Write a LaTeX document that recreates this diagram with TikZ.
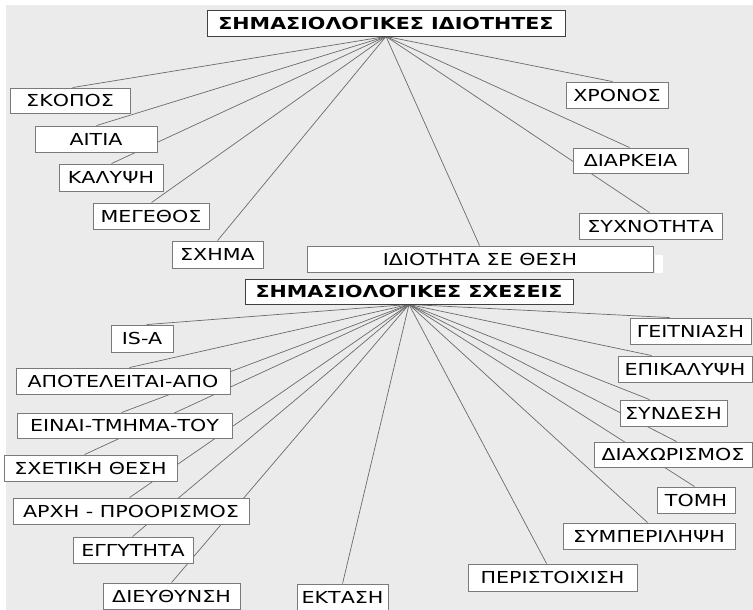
\documentclass[tikz,border=0pt]{standalone}
\usepackage{fontspec}
\setmainfont[FakeStretch=1.25]{DejaVu Sans}
\pgfdeclarelayer{bg}
\pgfsetlayers{bg,main}
\definecolor{bggray}{HTML}{EBEBEB}
\definecolor{edgegray}{HTML}{7A7A7A}
\definecolor{linkgray}{HTML}{6A6A6A}
\tikzset{
  box/.style={draw=edgegray, line width=0.9pt, fill=white, inner sep=0pt,
    font=\fontsize{16.5}{18}\selectfont, text=black},
  titlebox/.style={box, draw=black!75, font=\fontsize{16.5}{18}\selectfont\bfseries},
  link/.style={draw=linkgray, line width=0.7pt},
}
% name, x1, y1, x2, y2, text
\newcommand\gbox[7][box]{%
  \node[#1, minimum width={#5-#3}, minimum height={#6-#4}]
    (#2) at ({(#3+#5)/2},{(#4+#6)/2}) {#7};}
% hub, target, offset from left edge
\newcommand\glink[3]{\draw[link] (#1) -- ([xshift=#3pt]#2.north west);}
\begin{document}
\begin{tikzpicture}[x=1pt,y=-1pt]
\useasboundingbox (0,0) rectangle (753,610);
\begin{pgfonlayer}{bg}
  \fill[white] (0,0) rectangle (753,610);
  \fill[bggray] (6,5) rectangle (753,610);
\end{pgfonlayer}

\gbox[titlebox]{t1}{207}{10}{565}{36}{ΣΗΜΑΣΙΟΛΟΓΙΚΕΣ ΙΔΙΟΤΗΤΕΣ}
\gbox[titlebox]{t2}{245}{279}{573}{304}{ΣΗΜΑΣΙΟΛΟΓΙΚΕΣ ΣΧΕΣΕΙΣ}
\coordinate (h1) at (t1.south);
\coordinate (h2) at (t2.south);

\gbox{skopos}{10}{88}{130}{113}{ΣΚΟΠΟΣ}
\gbox{aitia}{35}{126}{157}{152}{ΑΙΤΙΑ}
\gbox{kalypsi}{59}{164}{163}{191}{ΚΑΛΥΨΗ}
\gbox{megethos}{93}{203}{209}{229}{ΜΕΓΕΘΟΣ}
\gbox{schima}{172}{241}{263}{268}{ΣΧΗΜΑ}
\gbox{idiotita}{307}{246}{653}{272}{ΙΔΙΟΤΗΤΑ ΣΕ ΘΕΣΗ}
\gbox{chronos}{566}{82}{668}{108}{ΧΡΟΝΟΣ}
\gbox{diarkeia}{573}{148}{688}{173}{ΔΙΑΡΚΕΙΑ}
\gbox{sychnotita}{579}{213}{722}{239}{ΣΥΧΝΟΤΗΤΑ}
\fill[white] (655,255) rectangle (663,273);

\gbox{isa}{111}{325}{173}{352}{IS-A}
\gbox{apoteleitai}{16}{368}{230}{394}{ΑΠΟΤΕΛΕΙΤΑΙ-ΑΠΟ}
\gbox{einai}{17}{413}{232}{438}{ΕΙΝΑΙ-ΤΜΗΜΑ-ΤΟΥ}
\gbox{schetiki}{4}{455}{177}{481}{ΣΧΕΤΙΚΗ ΘΕΣΗ}
\gbox{archi}{13}{498}{249}{524}{ΑΡΧΗ - ΠΡΟΟΡΙΣΜΟΣ}
\gbox{engytita}{73}{537}{193}{563}{ΕΓΓΥΤΗΤΑ}
\gbox{dieythynsi}{103}{583}{240}{609}{ΔΙΕΥΘΥΝΣΗ}
\gbox{ektasi}{297}{584}{388}{610}{ΕΚΤΑΣΗ}
\gbox{peristoichisi}{468}{564}{637}{591}{ΠΕΡΙΣΤΟΙΧΙΣΗ}
\gbox{symperilipsi}{563}{523}{735}{549}{ΣΥΜΠΕΡΙΛΗΨΗ}
\gbox{tomi}{657}{487}{735}{513}{ΤΟΜΗ}
\gbox{diachorismos}{594}{442}{752}{467}{ΔΙΑΧΩΡΙΣΜΟΣ}
\gbox{syndesi}{620}{400}{727}{426}{ΣΥΝΔΕΣΗ}
\gbox{epikalypsi}{618}{356}{752}{382}{ΕΠΙΚΑΛΥΨΗ}
\gbox{geitniasi}{630}{318}{751}{344}{ΓΕΙΤΝΙΑΣΗ}

\begin{pgfonlayer}{bg}
\glink{h1}{skopos}{63}
\glink{h1}{aitia}{62}
\glink{h1}{kalypsi}{53}
\glink{h1}{megethos}{59}
\glink{h1}{schima}{46}
\glink{h1}{idiotita}{173}
\glink{h1}{chronos}{47}
\glink{h1}{diarkeia}{57}
\glink{h1}{sychnotita}{71}

\glink{h2}{isa}{36}
\glink{h2}{apoteleitai}{114}
\glink{h2}{einai}{105}
\glink{h2}{schetiki}{81}
\glink{h2}{archi}{117}
\glink{h2}{engytita}{60}
\glink{h2}{dieythynsi}{69}
\glink{h2}{ektasi}{46}
\glink{h2}{peristoichisi}{79}
\glink{h2}{symperilipsi}{85}
\glink{h2}{tomi}{38}
\glink{h2}{diachorismos}{83}
\glink{h2}{syndesi}{30}
\glink{h2}{epikalypsi}{34}
\glink{h2}{geitniasi}{40}
\end{pgfonlayer}
\end{tikzpicture}
\end{document}
